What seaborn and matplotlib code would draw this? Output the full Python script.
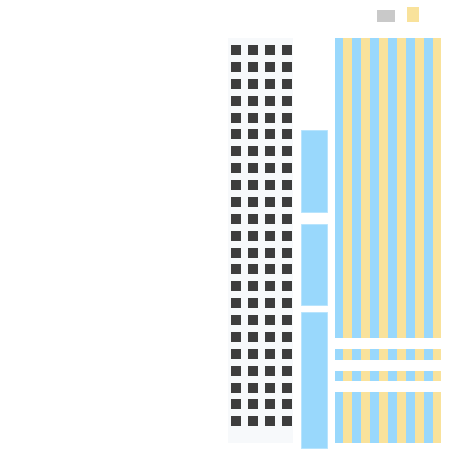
import numpy as np
import pandas as pd
import matplotlib
matplotlib.use('Agg')
import matplotlib.pyplot as plt
import seaborn as sns

sns.set_style('white')

# ---- data (canvas units, y measured from the top) ----
# left tower: background block + grid of windows
tower_x = [228, 293]
tower_y = [38, 443]
window_x = [236, 253, 270, 287]
window_y0, window_step, window_rows = 50, 16.88, 23

# middle column: solid blue segments (top, bottom)
mid_x = [300.5, 327]
mid_segments = [(129.5, 212), (224, 305), (312, 448)]

# right column: striped segments (top, bottom)
right_x = [334.5, 441.5]
right_segments = [(38, 338), (349, 359.5), (370.5, 381), (392, 443)]
stripe_colors = ['blue', 'yellow'] * 6

# legend swatches: (x0, x1, y0, y1)
legend_keys = ['gray', 'yellow']
legend_boxes = [(377, 395, 9.5, 22), (407, 419, 7, 22)]

palette = {'blue': '#99d8fc', 'yellow': '#f9e29b', 'gray': '#c9c9c9'}

fig = plt.figure(figsize=(4.5, 4.5), dpi=100)
ax = fig.add_axes([0, 0, 1, 1])
ax.set_xlim(0, 450)
ax.set_ylim(450, 0)
ax.axis('off')

# tower background
ax.bar(x=np.mean(tower_x), height=tower_y[1] - tower_y[0], bottom=tower_y[0],
       width=tower_x[1] - tower_x[0], color='#f7f9fb', linewidth=0)

# windows
gx, gy = np.meshgrid(window_x, window_y0 + window_step * np.arange(window_rows))
windows = pd.DataFrame({'x': gx.ravel(), 'y': gy.ravel()})
sns.scatterplot(data=windows, x='x', y='y', marker='s', s=44, color='#3d3d3d',
                linewidth=0, ax=ax, legend=False)

# middle column
for top, bot in mid_segments:
    ax.bar(x=np.mean(mid_x), height=bot - top, bottom=top, width=mid_x[1] - mid_x[0],
           color=palette['blue'], edgecolor='#b5e3fd', linewidth=0.6)

# right striped column
n = len(stripe_colors)
sw = (right_x[1] - right_x[0]) / n
for i, c in enumerate(stripe_colors):
    cx = right_x[0] + sw * (i + 0.5)
    for top, bot in right_segments:
        ax.bar(x=cx, height=bot - top, bottom=top, width=sw, color=palette[c], linewidth=0)

# legend swatches
for key, (x0, x1, y0, y1) in zip(legend_keys, legend_boxes):
    ax.bar(x=(x0 + x1) / 2, height=y1 - y0, bottom=y0, width=x1 - x0,
           color=palette[key], linewidth=0)

ax.set_xlabel('')
ax.set_ylabel('')
fig.savefig('out.png', dpi=100, facecolor='white')
